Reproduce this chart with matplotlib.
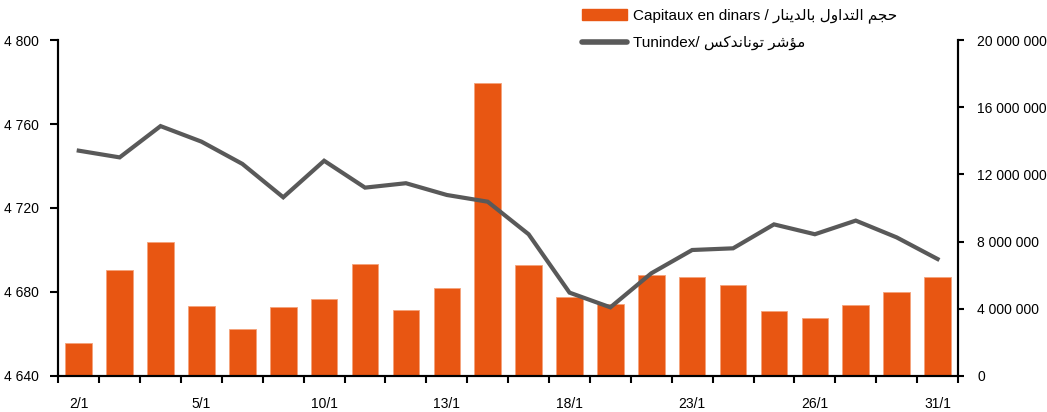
import numpy as np
import matplotlib
matplotlib.use('Agg')
import matplotlib.pyplot as plt
from matplotlib.ticker import FuncFormatter, FixedLocator
from matplotlib.lines import Line2D
from matplotlib.patches import Patch

# data
days = ['2/1', '', '', '5/1', '', '', '10/1', '', '', '13/1', '', '',
        '18/1', '', '', '23/1', '', '', '26/1', '', '', '31/1']
capitaux = [1.95e6, 6.29e6, 7.99e6, 4.15e6, 2.78e6, 4.11e6, 4.57e6, 6.67e6,
            3.91e6, 5.22e6, 17.44e6, 6.59e6, 4.68e6, 4.29e6, 5.99e6, 5.87e6,
            5.42e6, 3.87e6, 3.43e6, 4.23e6, 5.02e6, 5.91e6]
tunindex = [4747.3, 4744.1, 4759.0, 4751.6, 4741.0, 4725.1, 4742.5, 4729.7,
            4731.8, 4726.2, 4723.0, 4707.5, 4679.7, 4672.7, 4688.9, 4700.0,
            4700.8, 4712.2, 4707.5, 4714.0, 4706.0, 4695.7]

# arabic written in presentation forms, visual order (matplotlib does no shaping)
ar_cap = '\uFEAD\uFE8E\uFEE8\uFEF3\uFEAA\uFEDF\uFE8E\uFE91 \uFEDD\uFEED\uFE8D\uFEAA\uFE98\uFEDF\uFE8D \uFEE2\uFEA0\uFEA3'
ar_tun = '\uFEB2\uFEDB\uFEAA\uFEE7\uFE8E\uFEE7\uFEEE\uFE97 \uFEAE\uFEB7\uFE86\uFEE3'
lbl_cap = 'Capitaux en dinars / ' + ar_cap
lbl_tun = 'Tunindex/ ' + ar_tun

plt.rcParams['font.family'] = ['Liberation Sans', 'DejaVu Sans']
plt.rcParams['font.size'] = 10

bar_col = '#E85612'
line_col = '#595959'

fig = plt.figure(figsize=(10.47, 4.12), dpi=100)
ax2 = fig.add_axes([0.0557, 0.0874, 0.8593, 0.8155])   # bars, right scale
ax = ax2.twinx()
ax.yaxis.tick_left()
ax.yaxis.set_label_position('left')
ax2.yaxis.tick_right()

x = np.arange(len(days))
ax2.bar(x, capitaux, width=0.65, color=bar_col, edgecolor='#F5A27A', linewidth=0.6)
ax.plot(x, tunindex, color=line_col, lw=3.0, solid_joinstyle='miter')

ax.set_xlim(-0.5, len(days) - 0.5)
ax.set_ylim(4640, 4800)
ax.set_yticks(np.arange(4640, 4801, 40))
ax2.set_ylim(0, 20e6)
ax2.set_yticks(np.arange(0, 20e6 + 1, 4e6))

sp = lambda v, p: '{:,.0f}'.format(v).replace(',', ' ')
ax.yaxis.set_major_formatter(FuncFormatter(sp))
ax2.yaxis.set_major_formatter(FuncFormatter(sp))

ax2.set_xticks(x)
ax2.set_xticklabels(days)
ax2.xaxis.set_minor_locator(FixedLocator(np.arange(-0.5, len(days), 1.0)))
ax2.tick_params(axis='x', which='major', length=0, pad=15)
ax2.tick_params(axis='x', which='minor', length=5, width=1.5, direction='out')
ax.tick_params(axis='y', length=6, width=1.5, direction='out', pad=8)
ax2.tick_params(axis='y', length=4, width=1.5, direction='out', pad=10)

for a in (ax, ax2):
    a.spines['top'].set_visible(False)
    for s in ('left', 'right', 'bottom'):
        a.spines[s].set_linewidth(1.5)

handles = [Patch(facecolor=bar_col, edgecolor=bar_col),
           Line2D([0], [0], color=line_col, lw=4, solid_capstyle='round')]
fig.legend(handles, [lbl_cap, lbl_tun], loc='upper left',
           bbox_to_anchor=(0.543, 1.012), frameon=False, fontsize=11,
           handlelength=2.9, handleheight=0.7, labelspacing=0.8, handletextpad=0.4)

plt.savefig('out.png', dpi=100)
plt.close()
